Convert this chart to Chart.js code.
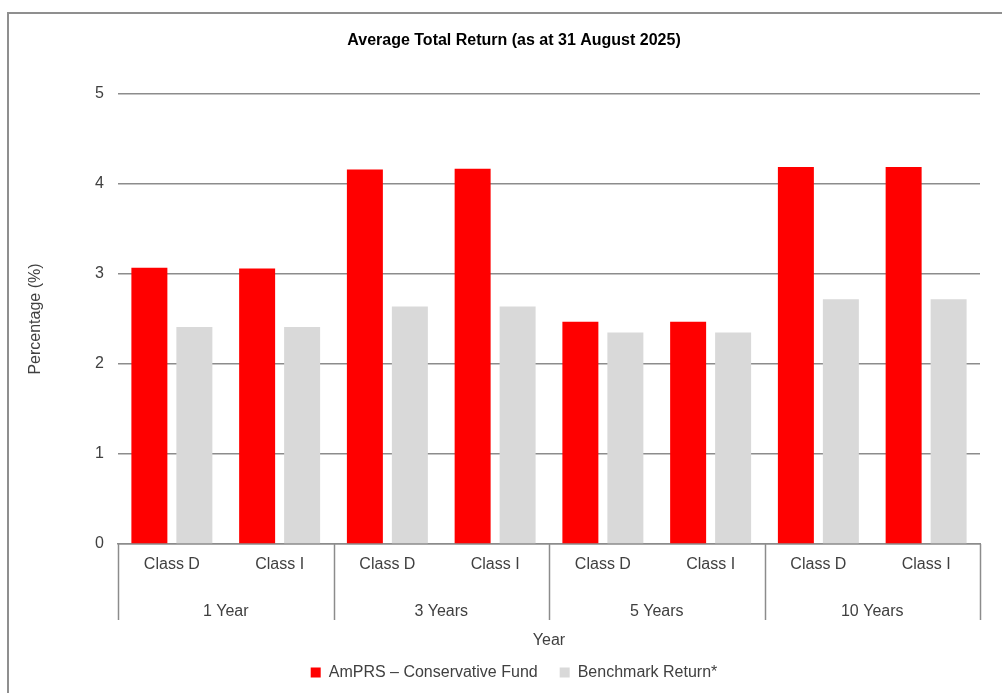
<!DOCTYPE html>
<html>
<head>
<meta charset="utf-8">
<script src="https://cdn.jsdelivr.net/npm/chart.js@4.4.1/dist/chart.umd.min.js"></script>
<style>
  html, body { margin: 0; padding: 0; background: #fff; overflow: hidden; }
  #frame {
    position: absolute; left: 7px; top: 12px; width: 1200px; height: 1000px;
    border: 2px solid #8f8f8f;
  }
  #chart { position: absolute; left: 0; top: 0; }
</style>
</head>
<body>
<div id="frame"></div>
<canvas id="chart" width="1002" height="693"></canvas>
<script>
const classLabels = ["Class D", "Class I", "Class D", "Class I", "Class D", "Class I", "Class D", "Class I"];
const periodLabels = ["1 Year", "3 Years", "5 Years", "10 Years"];
const fundReturns = [3.07, 3.06, 4.16, 4.17, 2.47, 2.47, 4.19, 4.19];
const benchmarkReturns = [2.41, 2.41, 2.64, 2.64, 2.35, 2.35, 2.72, 2.72];

const FONT = "'Liberation Sans', Arial, sans-serif";
const GRID = "#8c8c8c";
const TEXT = "#404040";

// vertical separators of the two-level category axis
const groupLines = {
  id: "groupLines",
  afterDraw(chart) {
    const x = chart.scales.x;
    const ctx = chart.ctx;
    const step = (x.right - x.left) / periodLabels.length;
    ctx.save();
    ctx.strokeStyle = GRID;
    ctx.lineWidth = 1.5;
    for (let g = 0; g <= periodLabels.length; g++) {
      const px = Math.round(x.left + g * step) + 0.5;
      ctx.beginPath();
      ctx.moveTo(px, x.top);
      ctx.lineTo(px, 620);
      ctx.stroke();
    }
    ctx.restore();
  },
};

new Chart(document.getElementById("chart"), {
  type: "bar",
  data: {
    labels: classLabels,
    datasets: [
      {
        label: "AmPRS – Conservative Fund",
        data: fundReturns,
        backgroundColor: "#ff0000",
        categoryPercentage: 0.835,
        barPercentage: 0.8,
      },
      {
        label: "Benchmark Return*",
        data: benchmarkReturns,
        backgroundColor: "#d9d9d9",
        categoryPercentage: 0.835,
        barPercentage: 0.8,
      },
    ],
  },
  options: {
    responsive: false,
    animation: false,
    layout: { padding: { left: 26, right: 0, top: 0, bottom: 2.5 } },
    plugins: {
      title: {
        display: true,
        text: "Average Total Return (as at 31 August 2025)",
        color: "#000",
        font: { family: FONT, size: 16, weight: "bold" },
        padding: { top: 31, bottom: 43.8 },
      },
      legend: {
        position: "bottom",
        labels: {
          boxWidth: 10,
          boxHeight: 10,
          padding: 22,
          color: TEXT,
          font: { family: FONT, size: 16 },
        },
      },
      tooltip: { enabled: false },
    },
    scales: {
      x: {
        weight: 1,
        grid: { display: false },
        border: { display: true, color: GRID, width: 1.5 },
        ticks: { color: TEXT, padding: 3, font: { family: FONT, size: 16 } },
        afterFit: (s) => { s.height = 40; },
      },
      x2: {
        type: "category",
        position: "bottom",
        weight: 2,
        labels: periodLabels,
        offset: true,
        grid: { display: false },
        border: { display: false },
        ticks: { color: TEXT, padding: 10, font: { family: FONT, size: 16 } },
        title: {
          display: true,
          text: "Year",
          color: TEXT,
          font: { family: FONT, size: 16 },
          padding: { top: 0, bottom: -8 },
        },
        afterFit: (s) => { s.height = 58.5; },
      },
      y: {
        min: 0,
        max: 5,
        ticks: { stepSize: 1, color: TEXT, padding: 14, font: { family: FONT, size: 16 } },
        grid: { color: GRID, lineWidth: 1.5, drawTicks: false },
        border: { display: false },
        title: {
          display: true,
          text: "Percentage (%)",
          color: TEXT,
          font: { family: FONT, size: 16 },
          padding: { top: 0, bottom: 0 },
        },
        afterFit: (s) => { s.width = 92; },
      },
      spacer: {
        type: "linear",
        position: "right",
        grid: { display: false },
        border: { display: false },
        ticks: { display: false },
        afterFit: (s) => { s.width = 22; },
      },
    },
  },
  plugins: [groupLines],
});
</script>
</body>
</html>
